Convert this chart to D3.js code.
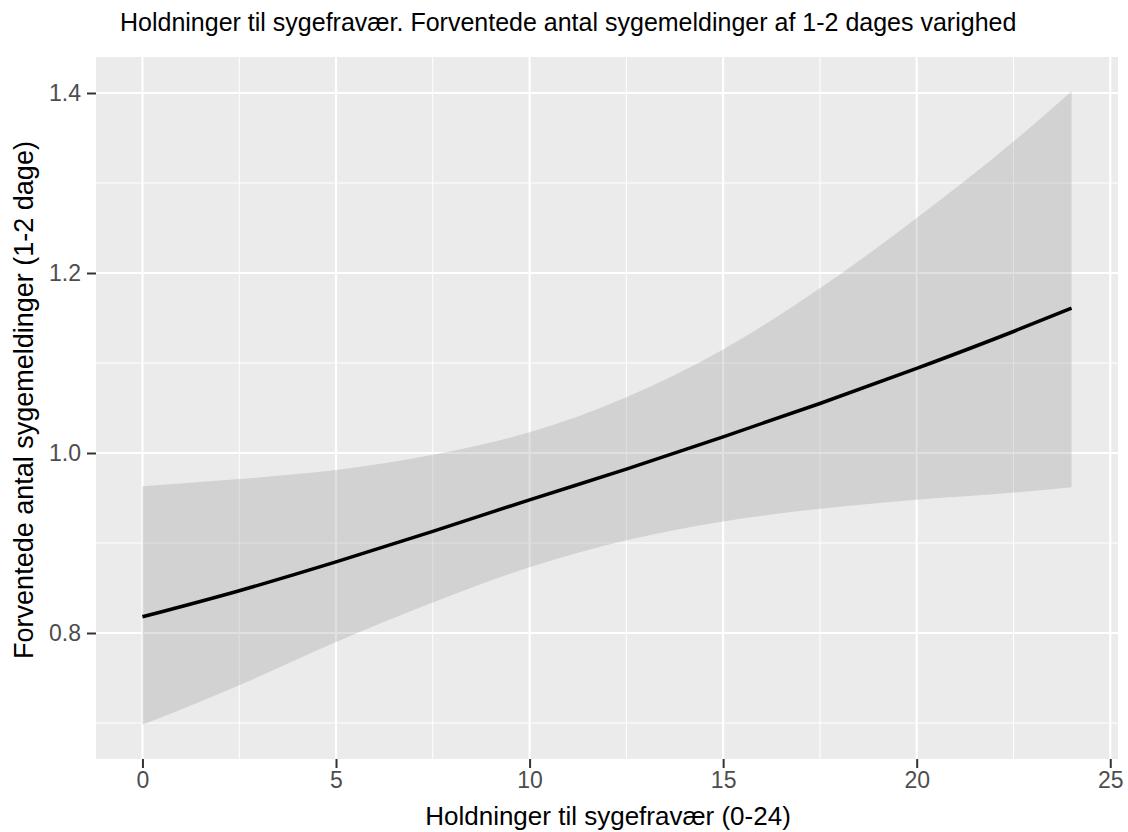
<!DOCTYPE html>
<html>
<head>
<meta charset="utf-8">
<script src="https://cdn.jsdelivr.net/npm/d3@7"></script>
<style>
body { margin: 0; background: #fff; }
text { font-family: "Liberation Sans", Arial, sans-serif; }
</style>
</head>
<body>
<svg></svg>
<script>
// values
var xVals  = [0, 2.5, 5, 7.5, 10, 12.5, 15, 17.5, 20, 22.5, 24];
var fitVals = [0.818, 0.847, 0.879, 0.913, 0.948, 0.982, 1.018, 1.055, 1.094, 1.135, 1.161];
var upperVals = [0.963, 0.971, 0.981, 0.998, 1.023, 1.062, 1.115, 1.183, 1.261, 1.346, 1.402];
var lowerVals = [0.698, 0.742, 0.790, 0.834, 0.873, 0.903, 0.924, 0.938, 0.948, 0.956, 0.962];
var xTicks = [0, 5, 10, 15, 20, 25];
var xMinor = [2.5, 7.5, 12.5, 17.5, 22.5];
var yTicks = [0.8, 1.0, 1.2, 1.4];
var yMinor = [0.7, 0.9, 1.1, 1.3];

var title = "Holdninger til sygefravær. Forventede antal sygemeldinger af 1-2 dages varighed";
var xTitle = "Holdninger til sygefravær (0-24)";
var yTitle = "Forventede antal sygemeldinger (1-2 dage)";

var W = 1128, H = 832;
var panel = {left: 96, right: 1118, top: 57, bottom: 759};

var data = xVals.map(function(x, i) {
  return {x: x, fit: fitVals[i], lo: lowerVals[i], hi: upperVals[i]};
});

var x = d3.scaleLinear().domain([-1.2, 25.2]).range([panel.left, panel.right]);
var y = d3.scaleLinear().domain([0.66, 1.44]).range([panel.bottom, panel.top]);

var svg = d3.select("svg").attr("width", W).attr("height", H);

svg.append("rect")
    .attr("x", panel.left).attr("y", panel.top)
    .attr("width", panel.right - panel.left)
    .attr("height", panel.bottom - panel.top)
    .attr("fill", "#ebebeb");

var grid = svg.append("g");
grid.selectAll(".xminor").data(xMinor).enter().append("line")
    .attr("x1", d => x(d)).attr("x2", d => x(d))
    .attr("y1", panel.top).attr("y2", panel.bottom)
    .attr("stroke", "#fff").attr("stroke-width", 1);
grid.selectAll(".yminor").data(yMinor).enter().append("line")
    .attr("y1", d => y(d)).attr("y2", d => y(d))
    .attr("x1", panel.left).attr("x2", panel.right)
    .attr("stroke", "#fff").attr("stroke-width", 1);
grid.selectAll(".xmajor").data(xTicks).enter().append("line")
    .attr("x1", d => x(d)).attr("x2", d => x(d))
    .attr("y1", panel.top).attr("y2", panel.bottom)
    .attr("stroke", "#fff").attr("stroke-width", 2.2);
grid.selectAll(".ymajor").data(yTicks).enter().append("line")
    .attr("y1", d => y(d)).attr("y2", d => y(d))
    .attr("x1", panel.left).attr("x2", panel.right)
    .attr("stroke", "#fff").attr("stroke-width", 2.2);

var area = d3.area()
    .x(d => x(d.x))
    .y0(d => y(d.lo))
    .y1(d => y(d.hi))
    .curve(d3.curveMonotoneX);

svg.append("path")
    .datum(data)
    .attr("d", area)
    .attr("fill", "#999999")
    .attr("fill-opacity", 0.3);

var line = d3.line()
    .x(d => x(d.x))
    .y(d => y(d.fit))
    .curve(d3.curveMonotoneX);

svg.append("path")
    .datum(data)
    .attr("d", line)
    .attr("fill", "none")
    .attr("stroke", "#000")
    .attr("stroke-width", 3.5);

// axes
var xAxis = svg.append("g")
    .attr("transform", "translate(0," + panel.bottom + ")")
    .call(d3.axisBottom(x).tickValues(xTicks).tickSize(9).tickPadding(4).tickFormat(d3.format("d")));
var yAxis = svg.append("g")
    .attr("transform", "translate(" + panel.left + ",0)")
    .call(d3.axisLeft(y).tickValues(yTicks).tickSize(9).tickPadding(6).tickFormat(d3.format(".1f")));

[xAxis, yAxis].forEach(function(a) {
  a.select(".domain").remove();
  a.selectAll(".tick line").attr("stroke", "#333").attr("stroke-width", 2);
  a.selectAll(".tick text").attr("fill", "#4d4d4d").style("font-size", "23px");
});

svg.append("text")
    .attr("x", 120).attr("y", 31)
    .style("font-size", "25px")
    .attr("fill", "#000")
    .text(title);

svg.append("text")
    .attr("x", 608).attr("y", 825)
    .attr("text-anchor", "middle")
    .style("font-size", "26px")
    .attr("fill", "#000")
    .text(xTitle);

svg.append("text")
    .attr("transform", "translate(33,400) rotate(-90)")
    .attr("text-anchor", "middle")
    .style("font-size", "27px")
    .attr("fill", "#000")
    .text(yTitle);
</script>
</body>
</html>
